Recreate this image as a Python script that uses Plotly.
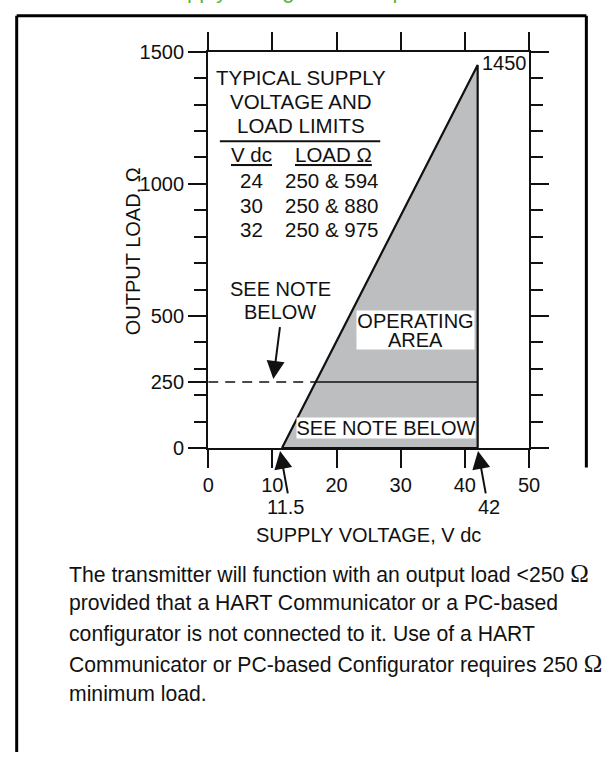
import plotly.graph_objects as go

# ---------------- data ----------------
supply_min_v = 11.5          # minimum supply voltage (V dc)
supply_max_v = 42            # maximum supply voltage (V dc)
load_max_ohm = 1450          # load at maximum supply voltage
hart_min_load = 250          # minimum load with HART communicator

x_ticks = [0, 10, 20, 30, 40, 50]
y_ticks = [0, 250, 500, 1000, 1500]
y_ticks_right = [0, 500, 1000, 1500]

table_vdc = [24, 30, 32]
table_load = ["250 & 594", "250 & 880", "250 & 975"]

caption = "Supply Voltage and Loop Load"
note_lines = [
    "The transmitter will function with an output load <250 Ω",
    "provided that a HART Communicator or a PC-based",
    "configurator is not connected to it. Use of a HART",
    "Communicator or PC-based Configurator requires 250 Ω",
    "minimum load.",
]

# ---------------- layout helpers ----------------
W, H = 610, 763
XPX0, XPX1 = 208, 538      # pixel of x=0 and x=50
YPX0, YPX1 = 450, 42       # pixel of y=0 and y=1500
X_RANGE = [0, 50]
Y_RANGE = [0, 1500]

def dx(px):
    return X_RANGE[0] + (px - XPX0) / (XPX1 - XPX0) * (X_RANGE[1] - X_RANGE[0])

def dy(py):
    return Y_RANGE[0] + (YPX0 - py) / (YPX0 - YPX1) * (Y_RANGE[1] - Y_RANGE[0])

def fx(px):
    return px / W

def fy(py):
    return 1 - py / H

FONT = "Liberation Sans, Arial, Helvetica, sans-serif"
TXT = "#111111"
FS = 20

# intersection of the load line with the HART minimum load
slope = load_max_ohm / (supply_max_v - supply_min_v)
v_at_hart = supply_min_v + hart_min_load / slope

fig = go.Figure()

# operating area
fig.add_trace(go.Scatter(
    x=[supply_min_v, supply_max_v, supply_max_v, supply_min_v],
    y=[0, load_max_ohm, 0, 0],
    mode="lines", fill="toself", fillcolor="#bcbec0",
    line=dict(color="#111111", width=2.2), hoverinfo="skip",
))
# 250 ohm solid line inside area
fig.add_trace(go.Scatter(
    x=[v_at_hart, supply_max_v], y=[hart_min_load, hart_min_load],
    mode="lines", line=dict(color="#111111", width=1.6), hoverinfo="skip",
))
# dashed 250 ohm guide line
fig.add_trace(go.Scatter(
    x=[X_RANGE[0], v_at_hart], y=[hart_min_load, hart_min_load],
    mode="lines", line=dict(color="#111111", width=1.6, dash="10px,7px"),
    hoverinfo="skip",
))
# empty trace so the right-hand tick axis is drawn
fig.add_trace(go.Scatter(x=[], y=[], yaxis="y2", hoverinfo="skip"))

ann = []

def text(x, y, t, size=FS, xanchor="center", yanchor="middle", xref="x", yref="y", **kw):
    d = dict(x=x, y=y, xref=xref, yref=yref, text=t, showarrow=False,
             xanchor=xanchor, yanchor=yanchor,
             font=dict(family=FONT, size=size, color=TXT))
    d.update(kw)
    ann.append(d)

def arrow(x, y, ax, ay, xref="x", yref="y", axref="x", ayref="y"):
    ann.append(dict(x=x, y=y, ax=ax, ay=ay, xref=xref, yref=yref,
                    axref=axref, ayref=ayref, text="", showarrow=True,
                    arrowhead=2, arrowsize=1.8, arrowwidth=2, arrowcolor=TXT))

# green caption (cut off at the top of the page)
text(fx(156), fy(-6), caption,
     xanchor="left", yanchor="bottom", xref="paper", yref="paper",
     font=dict(family=FONT, size=22, color="#5cb531"))

# table
text(dx(303), dy(68), "TYPICAL SUPPLY", size=20.5)
text(dx(303), dy(93), "VOLTAGE AND", size=20.5)
text(dx(303), dy(118), "LOAD LIMITS", size=20.5)
text(dx(253), dy(148), "<u>V dc</u>", size=20.5)
text(dx(337), dy(148), "<u>LOAD Ω</u>", size=20.5)
row_py = [175, 200, 225]
for v, l, py in zip(table_vdc, table_load, row_py):
    text(dx(253), dy(py), str(v), size=20.5)
    text(dx(335), dy(py), l, size=20.5)

# 1450 label
text(supply_max_v, load_max_ohm, str(load_max_ohm), xanchor="left", xshift=2, yshift=2)

# SEE NOTE BELOW (left) + arrow
text(dx(282), dy(286), "SEE NOTE")
text(dx(282), dy(310), "BELOW")
arrow(dx(275), dy(379), dx(282), dy(324))

# OPERATING AREA boxes
text(dx(421), dy(338), "AREA", width=117, height=19, bgcolor="white", borderpad=0)
text(dx(421), dy(319), "OPERATING", width=117, height=19, bgcolor="white", borderpad=0)
# SEE NOTE BELOW (bottom)
text(dx(391), dy(429), "SEE NOTE BELOW", width=178, height=20, bgcolor="white", borderpad=0)

# 11.5 and 42 markers below the axis
for v, lx, tip_dv in [(supply_min_v, 287, -0.3), (supply_max_v, 497, 0.05)]:
    text(dx(lx), fy(511), f"{v:g}", yref="paper")
    arrow(v + tip_dv, fy(453), 8, 44, yref="paper", axref="pixel", ayref="pixel")

# axis titles
text(fx(373), fy(540), "SUPPLY VOLTAGE, V dc", xref="paper", yref="paper")
text(fx(131), fy(247), "OUTPUT LOAD, Ω", xref="paper", yref="paper", textangle=-90)

# note paragraph
note_py = [579, 610, 641, 672, 703]
for line, py in zip(note_lines, note_py):
    t = line.replace("Ω", '<span style="font-family:Liberation Serif;font-size:25px">Ω</span>')
    text(fx(63), fy(py), t, size=21.2, xanchor="left", xref="paper", yref="paper")

shapes = [
    # rule under LOAD LIMITS
    dict(type="line", xref="x", yref="y", x0=dx(220), x1=dx(385), y0=dy(134), y1=dy(134),
         line=dict(color=TXT, width=2)),
    # page frame
    dict(type="line", xref="paper", yref="paper", x0=fx(11), x1=fx(11), y0=fy(5), y1=0,
         line=dict(color="black", width=3)),
    dict(type="line", xref="paper", yref="paper", x0=fx(11), x1=fx(597), y0=fy(5), y1=fy(5),
         line=dict(color="black", width=3)),
    dict(type="line", xref="paper", yref="paper", x0=fx(597), x1=fx(597), y0=fy(5), y1=fy(470),
         line=dict(color="black", width=3)),
]

tick_style = dict(
    showline=True, linecolor=TXT, linewidth=2.2,
    ticks="outside", ticklen=18, tickwidth=2.2, tickcolor=TXT,
    showgrid=False, zeroline=False,
    tickfont=dict(family=FONT, size=FS, color=TXT),
)
minor_y = dict(dtick=100, ticks="outside", ticklen=12, tickwidth=2.2,
               tickcolor=TXT, showgrid=False)
y_domain = [fy(YPX0), fy(YPX1)]

fig.update_layout(
    width=W, height=H,
    margin=dict(l=0, r=0, t=0, b=0),
    paper_bgcolor="white", plot_bgcolor="white",
    showlegend=False,
    xaxis=dict(range=X_RANGE, domain=[fx(XPX0), fx(XPX1)], tickvals=x_ticks,
               mirror="ticks", **tick_style),
    yaxis=dict(range=Y_RANGE, domain=y_domain, tickvals=y_ticks,
               minor=minor_y, **tick_style),
    yaxis2=dict(range=Y_RANGE, domain=y_domain, overlaying="y", side="right",
                anchor="x", tickvals=y_ticks_right, showticklabels=False,
                minor=minor_y, **tick_style),
    annotations=ann,
    shapes=shapes,
)

fig.write_html(
    "out.html",
    config={"displayModeBar": False},
    post_script="document.body.style.margin='0';document.body.style.overflow='hidden';",
)
